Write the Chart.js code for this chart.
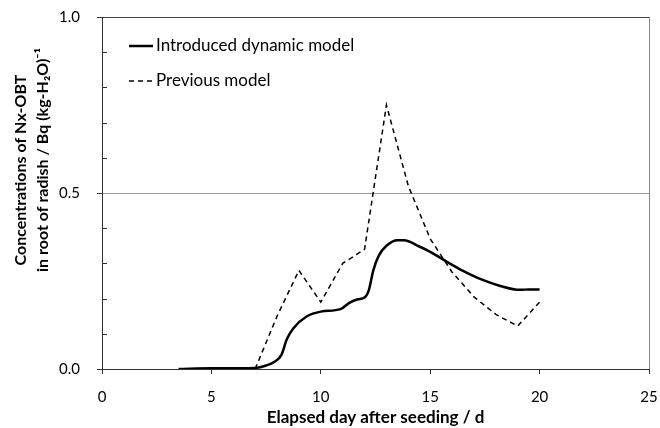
<!DOCTYPE html>
<html lang="en">
<head>
<meta charset="UTF-8">
<title>Nx-OBT in root of radish</title>
<script src="https://cdn.jsdelivr.net/npm/chart.js"></script>
<style>
body { margin: 0; background: #fff; }
</style>
</head>
<body>
<canvas id="obtChart" width="660" height="428"></canvas>
<script>
// Introduced dynamic model (solid line)
const dynamicDays   = [3.5, 5, 7, 7.5, 7.9, 8.2, 8.45, 8.75, 9.35, 10.0, 10.9, 11.3, 11.7, 12.0, 12.2, 12.4, 12.65, 13.0, 13.5, 13.8, 14.5, 15.0, 15.75, 16.5, 17.4, 18.2, 19.1, 19.5, 20.0];
const dynamicValues = [0.000, 0.002, 0.003, 0.010, 0.021, 0.040, 0.085, 0.116, 0.149, 0.163, 0.170, 0.188, 0.198, 0.203, 0.225, 0.280, 0.322, 0.350, 0.366, 0.366, 0.348, 0.333, 0.305, 0.279, 0.253, 0.236, 0.225, 0.226, 0.226];

// Previous model (dashed line)
const previousDays   = [7, 8, 9, 10, 11, 12, 13, 14, 15, 16, 17, 18, 19, 20];
const previousValues = [0.0, 0.15, 0.28, 0.19, 0.30, 0.34, 0.75, 0.52, 0.37, 0.275, 0.205, 0.155, 0.122, 0.19];

const seriesNames = ['Introduced dynamic model', 'Previous model'];
const yLabels = [0, 0.5, 1.0];
const yTitle = ['Concentrations of Nx-OBT', 'in root of radish / Bq (kg-H\u2082O)\u207B\u00B9'];

const FONT = 'Lato, "Open Sans", sans-serif';

// inside minor ticks on the y axis, the y title and the legend inside the plot
const extras = {
    id: 'extras',
    afterDraw(chart) {
        const ctx = chart.ctx;
        const y = chart.scales.y;
        const left = chart.chartArea.left;
        ctx.save();
        ctx.strokeStyle = '#333';
        ctx.lineWidth = 1;
        for (let v = 1; v < 10; v++) {
            if (v === 5) continue;
            const py = Math.round(y.getPixelForValue(v / 10)) + 0.5;
            ctx.beginPath();
            ctx.moveTo(left, py);
            ctx.lineTo(left + 5, py);
            ctx.stroke();
        }

        // y axis title, two lines
        ctx.fillStyle = '#000';
        ctx.font = 'bold 16px ' + FONT;
        ctx.textAlign = 'center';
        ctx.textBaseline = 'middle';
        [[21, 170], [43, 160]].forEach(([tx, ty], i) => {
            ctx.save();
            ctx.translate(tx, ty);
            ctx.rotate(-Math.PI / 2);
            ctx.fillText(yTitle[i], 0, 0);
            ctx.restore();
        });

        // legend
        ctx.font = '17px ' + FONT;
        ctx.textAlign = 'left';
        chart.data.datasets.forEach((ds, i) => {
            const ly = 46 + i * 35;
            ctx.strokeStyle = '#000';
            ctx.lineWidth = ds.borderWidth;
            ctx.setLineDash(ds.borderDash || []);
            ctx.beginPath();
            ctx.moveTo(129, ly);
            ctx.lineTo(153, ly);
            ctx.stroke();
            ctx.setLineDash([]);
            ctx.fillText(ds.label, 156, ly);
        });
        ctx.restore();
    }
};

const ctx = document.getElementById('obtChart').getContext('2d');
const chart = new Chart(ctx, {
    type: 'line',
    data: {
        datasets: [{
            label: seriesNames[0],
            data: dynamicDays.map((d, i) => ({ x: d, y: dynamicValues[i] })),
            borderColor: '#000',
            borderWidth: 2.5,
            pointRadius: 0,
            cubicInterpolationMode: 'monotone',
            fill: false
        }, {
            label: seriesNames[1],
            data: previousDays.map((d, i) => ({ x: d, y: previousValues[i] })),
            borderColor: '#000',
            borderWidth: 1.5,
            borderDash: [5, 4],
            pointRadius: 0,
            tension: 0,
            fill: false
        }]
    },
    options: {
        responsive: false,
        animation: false,
        layout: { padding: { top: 17, right: 11, left: 0, bottom: 0 } },
        plugins: {
            legend: { display: false },
            tooltip: { enabled: false }
        },
        scales: {
            x: {
                type: 'linear',
                min: 0,
                max: 25,
                afterFit: (s) => { s.height = 59; s.paddingLeft = 0; s.paddingRight = 0; },
                ticks: {
                    stepSize: 5,
                    color: '#000',
                    padding: 14,
                    font: { family: FONT, size: 15 }
                },
                grid: {
                    color: (c) => c.tick && c.tick.value === 25 ? '#888' : 'rgba(0,0,0,0)',
                    tickColor: '#333',
                    tickLength: 5
                },
                border: { color: '#333', width: 1 },
                title: {
                    display: true,
                    text: 'Elapsed day after seeding / d',
                    color: '#000',
                    font: { family: FONT, size: 17, weight: 'bold' },
                    padding: { top: 0, bottom: 0 }
                }
            },
            y: {
                min: 0,
                max: 1,
                afterFit: (s) => { s.width = 102; s.paddingTop = 0; s.paddingBottom = 0; },
                ticks: {
                    stepSize: 0.1,
                    autoSkip: false,
                    color: '#000',
                    padding: 17,
                    font: { family: FONT, size: 15 },
                    callback: (v) => yLabels.some((l) => Math.abs(l - v) < 1e-6) ? v.toFixed(1) : ''
                },
                grid: {
                    color: (c) => {
                        const v = c.tick ? c.tick.value : null;
                        if (v === null) return 'rgba(0,0,0,0)';
                        if (Math.abs(v - 0.5) < 1e-6) return '#999';
                        if (Math.abs(v - 1) < 1e-6) return '#444';
                        return 'rgba(0,0,0,0)';
                    },
                    tickColor: (c) => {
                        const v = c.tick ? c.tick.value : 0.1;
                        return yLabels.some((l) => Math.abs(l - v) < 1e-6) ? '#333' : 'rgba(0,0,0,0)';
                    },
                    tickLength: 5
                },
                border: { color: '#333', width: 1 }
            }
        }
    },
    plugins: [extras]
});
</script>
</body>
</html>
